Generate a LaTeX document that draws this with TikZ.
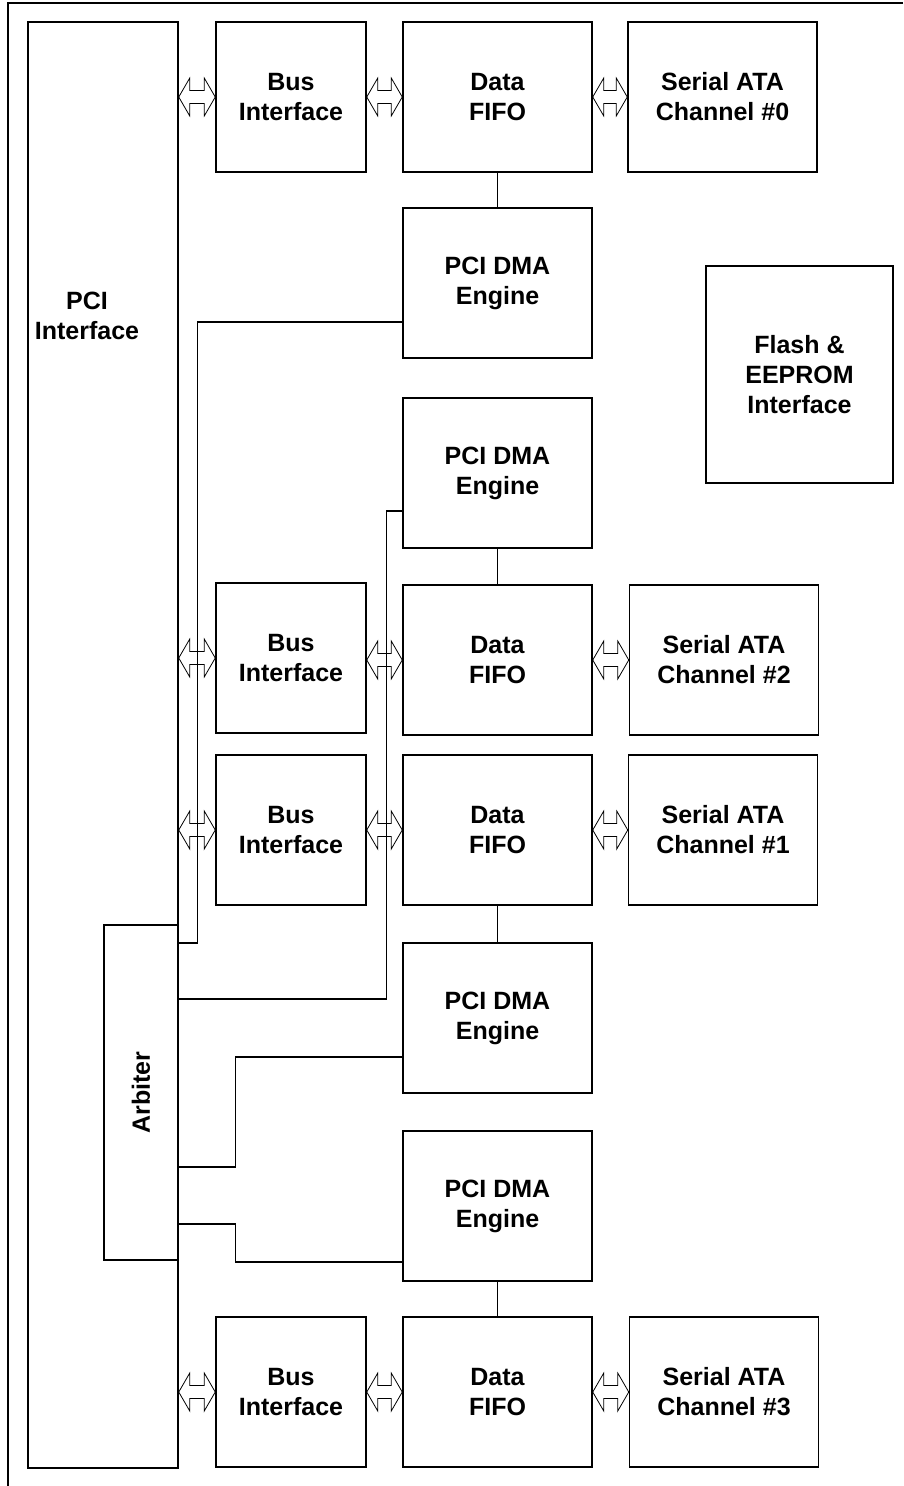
\documentclass[tikz,border=0pt]{standalone}
\usepackage{fontspec}
\setmainfont{Liberation Sans}
\usepackage{tikz}
\usetikzlibrary{calc}
\tikzset{
  blk/.style={draw, line width=1.5pt, inner sep=0pt, align=center,
              font=\fontsize{25}{30}\selectfont\bfseries},
  busbox/.style={blk, minimum width=150, minimum height=150},
  unit/.style={blk, minimum width=189, minimum height=150},
  txt/.style={align=center, font=\fontsize{25}{30}\selectfont\bfseries},
  wire/.style={line width=1.2pt},
  busarr/.style={line width=0.8pt, line join=miter}
}
% outline double arrow between two boxes
\newcommand{\busarrow}[2]{%
  \draw[busarr] let \p1=(#1.east), \p2=(#2.west) in
    (\x1,\y2) -- (\x1+11pt,\y2+19pt) -- (\x1+11pt,\y2+6.5pt) -- (\x2-11pt,\y2+6.5pt)
    -- (\x2-11pt,\y2+19pt) -- (\x2,\y2) -- (\x2-11pt,\y2-19pt) -- (\x2-11pt,\y2-6.5pt)
    -- (\x1+11pt,\y2-6.5pt) -- (\x1+11pt,\y2-19pt) -- cycle;}
\begin{document}
\begin{tikzpicture}[x=1pt, y=-1pt]
    \useasboundingbox (0,0) rectangle (903,1486);
    \draw[line width=1.2pt] (903,3) -- (8,3) -- (8,1486);

    % PCI side
    \node[blk, minimum width=150, minimum height=1446] (pci) at (103,745) {};
    \node[txt] (pcitxt) at (87,316) {PCI\\Interface};
    \node[blk, rotate=90, minimum width=335, minimum height=74, fill=white] (arb)
      at (141,1092.5) {Arbiter};

    % bus interfaces
    \node[busbox] (bus0) at (291,97) {Bus\\Interface};
    \node[busbox] (bus2) at (291,658) {Bus\\Interface};
    \node[busbox] (bus1) at (291,830) {Bus\\Interface};
    \node[busbox] (bus3) at (291,1392) {Bus\\Interface};

    % fifos and dma engines
    \node[unit] (fifo0) at (497.5,97) {Data\\FIFO};
    \node[unit] (dma0) at (497.5,283) {PCI DMA\\Engine};
    \node[unit] (dma2) at (497.5,473) {PCI DMA\\Engine};
    \node[unit] (fifo2) at (497.5,660) {Data\\FIFO};
    \node[unit] (fifo1) at (497.5,830) {Data\\FIFO};
    \node[unit] (dma1) at (497.5,1018) {PCI DMA\\Engine};
    \node[unit] (dma3) at (497.5,1206) {PCI DMA\\Engine};
    \node[unit] (fifo3) at (497.5,1392) {Data\\FIFO};

    % sata channels
    \node[unit] (sata0) at (722.5,97) {Serial ATA\\Channel \#0};
    \node[unit] (sata2) at (724,660) {Serial ATA\\Channel \#2};
    \node[unit] (sata1) at (723,830) {Serial ATA\\Channel \#1};
    \node[unit] (sata3) at (724,1392) {Serial ATA\\Channel \#3};
    \node[blk, minimum width=187, minimum height=217] (flash) at (799.5,374.5)
      {Flash \&\\EEPROM\\Interface};

    % fifo <-> dma
    \draw[wire] (fifo0) -- (dma0);
    \draw[wire] (dma2) -- (fifo2);
    \draw[wire] (fifo1) -- (dma1);
    \draw[wire] (dma3) -- (fifo3);

    % dma -> arbiter (arb is rotated, so its south side faces right)
    \draw[wire] ([yshift=-39pt]dma0.west) -| ([xshift=19pt,yshift=149.5pt]arb.south)
      -- ([yshift=149.5pt]arb.south);
    \draw[wire] ([yshift=-38pt]dma2.west) -| ([xshift=208pt,yshift=93.5pt]arb.south)
      -- ([yshift=93.5pt]arb.south);
    \draw[wire] ([yshift=-39pt]dma1.west) -| ([xshift=57pt,yshift=-74.5pt]arb.south)
      -- ([yshift=-74.5pt]arb.south);
    \draw[wire] ([yshift=-131.5pt]arb.south) -- ([xshift=57pt,yshift=-131.5pt]arb.south)
      |- ([yshift=-56pt]dma3.west);

    % bus arrows
    \busarrow{pci}{bus0}
    \busarrow{pci}{bus2}
    \busarrow{pci}{bus1}
    \busarrow{pci}{bus3}
    \busarrow{bus0}{fifo0}
    \busarrow{bus2}{fifo2}
    \busarrow{bus1}{fifo1}
    \busarrow{bus3}{fifo3}
    \busarrow{fifo0}{sata0}
    \busarrow{fifo2}{sata2}
    \busarrow{fifo1}{sata1}
    \busarrow{fifo3}{sata3}
\end{tikzpicture}
\end{document}
